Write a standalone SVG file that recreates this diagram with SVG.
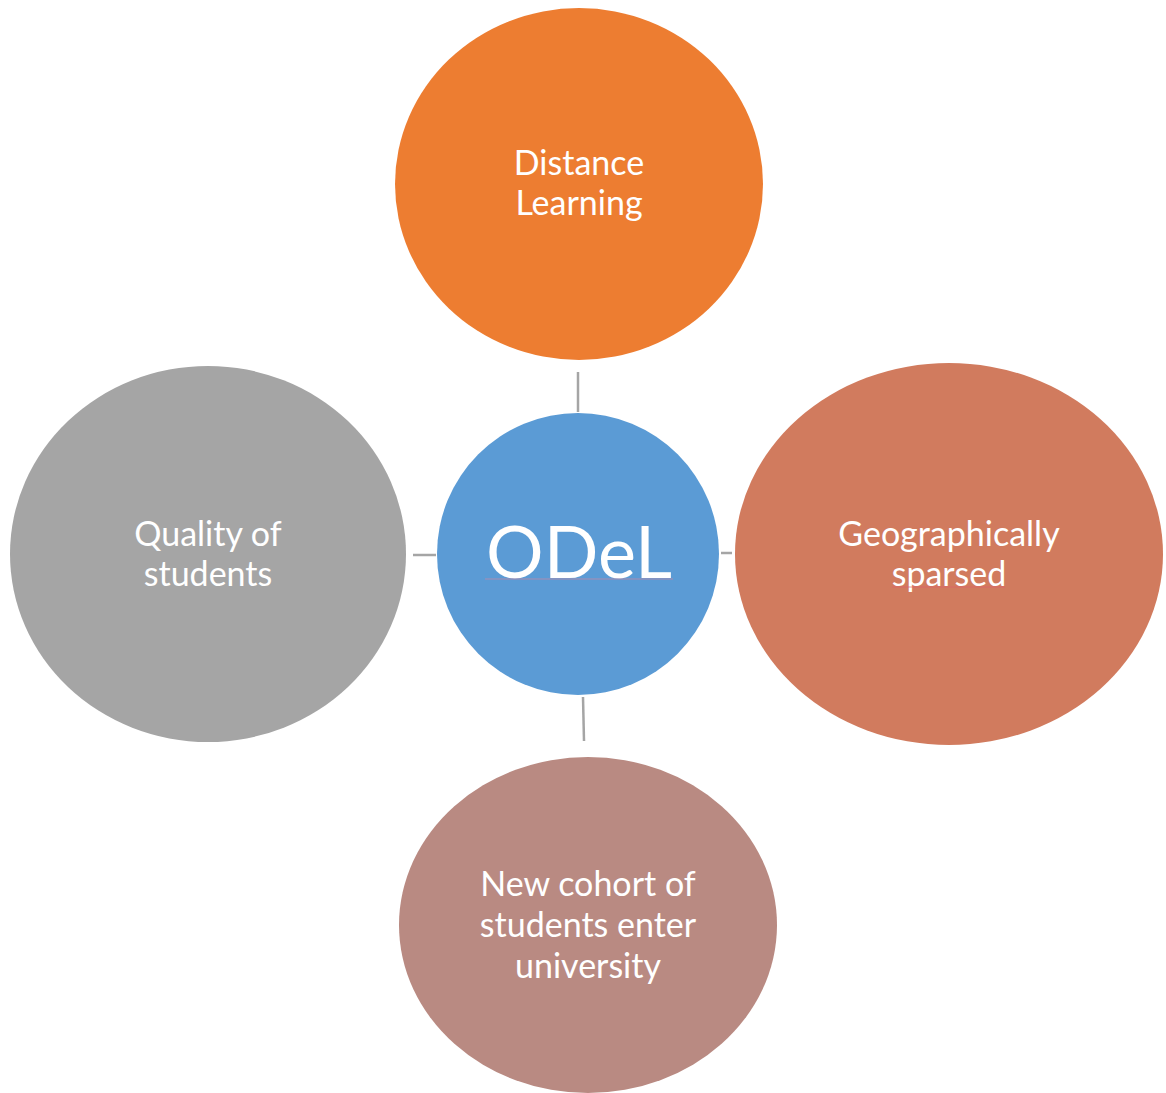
<svg xmlns="http://www.w3.org/2000/svg" width="1166" height="1093" viewBox="0 0 1166 1093">
  <style>
    .lbl { font-family: "Lato", "Open Sans", "Liberation Sans", sans-serif; font-size: 34px; fill: #ffffff; text-anchor: middle; }
    .hub { font-family: "Lato", "Open Sans", "Liberation Sans", sans-serif; font-size: 72px; fill: #ffffff; text-anchor: middle; }
    .link { stroke: #a5a5a5; stroke-width: 2.5; fill: none; }
    .squiggle { stroke: #e0606a; stroke-width: 1; opacity: 0.7; }
  </style>
  <rect width="1166" height="1093" fill="#ffffff"/>

  <!-- spokes between the hub and the outer topics -->
  <g id="connectors">
    <line class="link" x1="578" y1="372" x2="578" y2="412"/>
    <line class="link" x1="413" y1="555" x2="436" y2="555"/>
    <line class="link" x1="721" y1="553" x2="732" y2="553"/>
    <line class="link" x1="583" y1="697" x2="584" y2="741"/>
  </g>

  <g id="node-distance-learning">
    <ellipse cx="579" cy="184" rx="184" ry="176" fill="#ed7d31"/>
    <text class="lbl" x="579" y="175">Distance</text>
    <text class="lbl" x="579" y="215">Learning</text>
  </g>

  <g id="node-quality">
    <ellipse cx="208" cy="554" rx="198" ry="188" fill="#a5a5a5"/>
    <text class="lbl" x="208" y="546">Quality of</text>
    <text class="lbl" x="208" y="586">students</text>
  </g>

  <g id="node-geography">
    <ellipse cx="949" cy="554" rx="214" ry="191" fill="#d17b5e"/>
    <text class="lbl" x="949" y="546">Geographically</text>
    <text class="lbl" x="949" y="586">sparsed</text>
    <line class="squiggle" x1="892" y1="587" x2="1005" y2="587"/>
  </g>

  <g id="node-new-cohort">
    <ellipse cx="588" cy="925" rx="189" ry="168" fill="#b98a82"/>
    <text class="lbl" x="588" y="896">New cohort of</text>
    <text class="lbl" x="588" y="937">students enter</text>
    <text class="lbl" x="588" y="978">university</text>
  </g>

  <g id="node-odel">
    <circle cx="578" cy="554" r="141" fill="#5b9bd5"/>
    <text class="hub" x="579" y="578">ODeL</text>
    <line x1="485" y1="579" x2="673" y2="579" stroke="#c08aa8" stroke-width="1" opacity="0.8"/>
  </g>
</svg>
